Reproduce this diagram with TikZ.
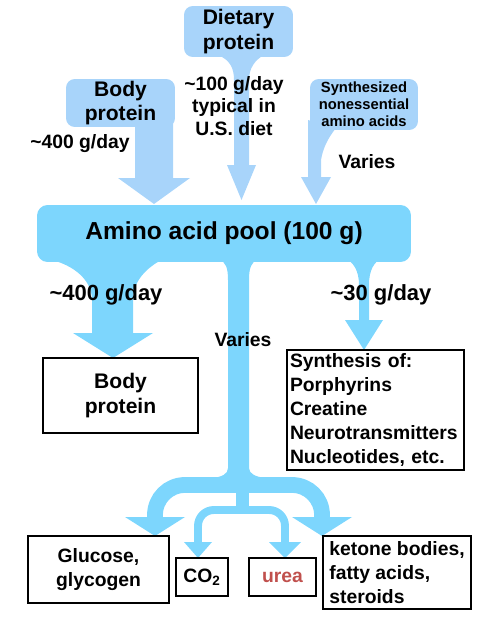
\documentclass[tikz,border=0pt]{standalone}
\usepackage{fontspec}
\setmainfont{Liberation Sans}
\usepackage{tikz}
\usepackage{xcolor}
\usetikzlibrary{calc}

\definecolor{feedblue}{RGB}{168,212,250}
\definecolor{poolblue}{RGB}{125,214,253}
\definecolor{ureared}{RGB}{192,80,77}

\begin{document}
\begin{tikzpicture}[x=0.02cm, y=-0.02cm,
  txt/.style={font=\bfseries\fontsize{11}{13}\selectfont, align=center, inner sep=0pt},
  feed/.style={fill=feedblue, rounded corners=5pt, inner sep=0pt, align=center, font=\bfseries\fontsize{12}{14}\selectfont},
  endbox/.style={draw, line width=1.2pt, inner sep=0pt, font=\bfseries\fontsize{11}{13.6}\selectfont}]
  \useasboundingbox (0,0) rectangle (488,622);

  % Inflow tails
  \fill[feedblue] (218,55) .. controls (230,60) and (234,68) .. (234,80) -- (234,165) -- (227,165) -- (241.5,200)
                  -- (256,165) -- (249,165) -- (249,80) .. controls (249,68) and (255,60) .. (264,55) -- cycle;
  \fill[feedblue] (135,120) -- (135,178) -- (118,178) -- (154,204) -- (190,178) -- (173,178) -- (173,120) -- cycle;
  \fill[feedblue] (308,120) -- (308,177) -- (301,177) -- (316,204) -- (331,177) -- (321,177) -- (321,160)
                  .. controls (323,148) and (328,138) .. (336,128) -- cycle;

  % Sources
  \node[feed, minimum width=2.18cm, minimum height=1.02cm] (diet) at (238.5,31.5) {Dietary\\protein};
  \node[feed, minimum width=2.18cm, minimum height=0.96cm] (bodyin) at (120.5,103) {Body\\protein};
  \node[feed, minimum width=2.16cm, minimum height=1.02cm, font=\bfseries\fontsize{8.4}{9.6}\selectfont] (synin) at (364,104.5) {Synthesized\\nonessential\\amino acids};
  \node[txt] (bodyrate) at (80,144) {\textasciitilde400 g/day};
  \node[txt] (dietrate) at (234,106) {\textasciitilde100 g/day\\typical in\\U.S. diet};
  \node[txt] (synvaries) at (367,162) {Varies};

  % Pool
  \node[fill=poolblue, rounded corners=6pt, minimum width=7.48cm, minimum height=1.14cm, font=\bfseries\fontsize{14}{16}\selectfont] (pool) at (224,233.5) {Amino acid pool (100 g)};

  % Outflows
  \fill[poolblue] (42,258) .. controls (70,262) and (92,278) .. (92,300) -- (92,333) -- (73,333) -- (113,358)
                  -- (153,333) -- (133,333) -- (133,300) .. controls (133,282) and (145,268) .. (165,258) -- cycle;
  \fill[poolblue] (345,258) .. controls (353,262) and (359,270) .. (359,285) -- (359,320) -- (345,320) -- (364,350)
                  -- (383,320) -- (369,320) -- (369,285) .. controls (369,270) and (374,262) .. (382,258) -- cycle;
  \fill[poolblue] (218,258) .. controls (226,262) and (228,268) .. (228,280) -- (228,468) .. controls (228,474) and (222,477) .. (212,478)
                  -- (266,478) .. controls (256,477) and (249,474) .. (249,468) -- (249,280) .. controls (249,268) and (251,262) .. (259,258) -- cycle;
  \node[txt, font=\bfseries\fontsize{12.5}{15}\selectfont] (outrate) at (106,295) {\textasciitilde400 g/day};
  \node[txt, font=\bfseries\fontsize{12.5}{15}\selectfont] (smallrate) at (381,295) {\textasciitilde30 g/day};
  \node[txt] (midvaries) at (243,340) {Varies};

  % Branches
  \draw[poolblue, line width=9pt, rounded corners=17pt] (238,485) -| (155,518);
  \draw[poolblue, line width=9pt, rounded corners=17pt] (238,485) -| (322,518);
  \fill[poolblue] (125,517) -- (185,517) -- (155,536) -- cycle;
  \fill[poolblue] (292,517) -- (352,517) -- (322,536) -- cycle;
  \fill[poolblue] (236,490) rectangle (249,512);
  \draw[poolblue, line width=4.5pt, rounded corners=9pt] (243,510) -| (198,543);
  \draw[poolblue, line width=4.5pt, rounded corners=9pt] (243,510) -| (285,543);
  \fill[poolblue] (184,542) -- (212,542) -- (198,558) -- cycle;
  \fill[poolblue] (269,542) -- (301,542) -- (285,558) -- cycle;

  % Products
  \node[endbox, minimum width=3.1cm, minimum height=1.5cm, align=center, font=\bfseries\fontsize{12}{14.5}\selectfont] (bodyout) at (120.5,395.5) {Body\\protein};
  \node[endbox, text width=3.42cm, inner xsep=0.06cm, minimum height=2.4cm, align=left] (synth) at (375.5,410) {Synthesis of:\\Porphyrins\\Creatine\\Neurotransmitters\\Nucleotides, etc.};
  \node[endbox, minimum width=2.82cm, minimum height=1.34cm, align=center] (gluc) at (98.5,569.5) {Glucose,\\glycogen};
  \node[endbox, minimum width=1.04cm, minimum height=0.76cm] (co2) at (202,577) {CO\textsubscript{2}};
  \node[endbox, minimum width=1.34cm, minimum height=0.76cm, text=ureared] (urea) at (282.5,577) {urea};
  \node[endbox, minimum width=2.96cm, minimum height=1.46cm, align=left] (keto) at (397,572.5) {ketone bodies,\\fatty acids,\\steroids};
\end{tikzpicture}
\end{document}
